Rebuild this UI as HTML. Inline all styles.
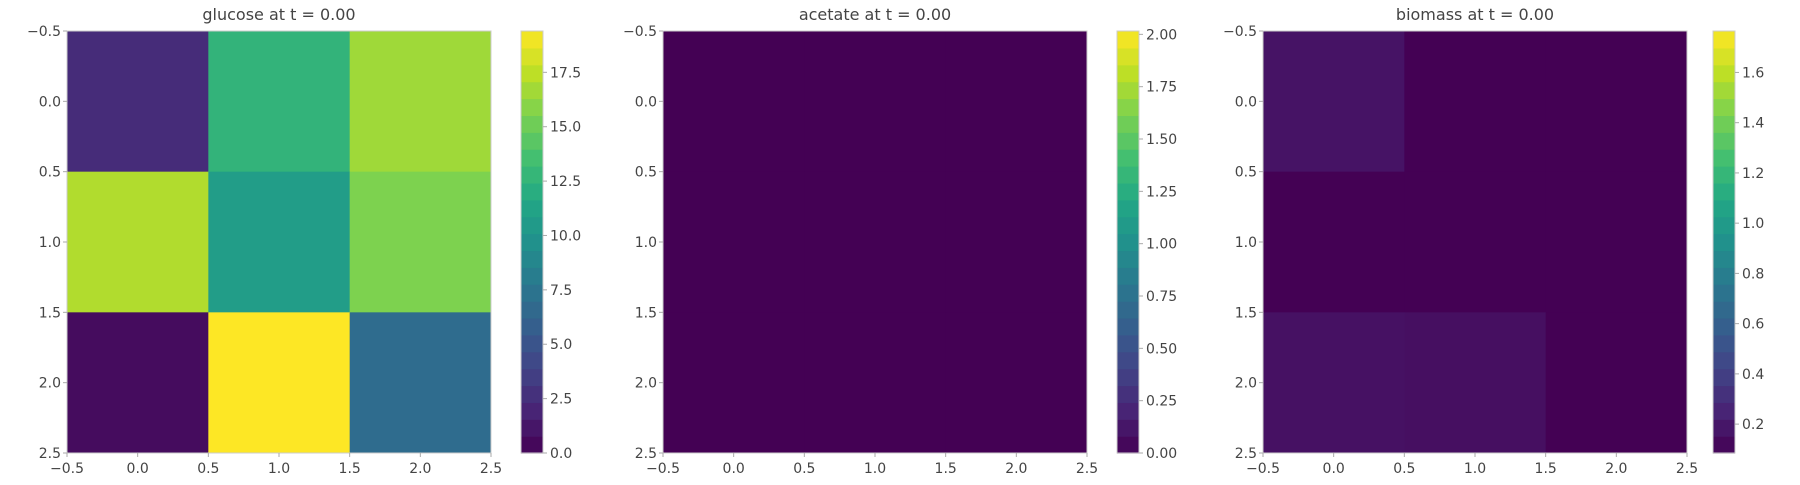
<!DOCTYPE html>
<html><head><meta charset="utf-8">
<style>
html,body{margin:0;padding:0;background:#fff;}
svg text{font-family:"DejaVu Sans","Liberation Sans",sans-serif;fill:#444;}
</style></head>
<body>
<svg id="chart" width="1800" height="480" xmlns="http://www.w3.org/2000/svg"></svg>
<script>
const panelTitles = ["glucose at t = 0.00","acetate at t = 0.00","biomass at t = 0.00"];
const glucoseValues = [[2.4,12.6,16.6],[17.1,10.7,15.6],[0.6,19.4,6.8]];
const acetateValues = [[0,0,0],[0,0,0],[0,0,0]];
const biomassValues = [[0.17,0.085,0.085],[0.085,0.085,0.085],[0.16,0.15,0.085]];
const valueRanges = [[0,19.4],[0,2.016],[0.085,1.765]];
const cbTicks0 = [0,2.5,5,7.5,10,12.5,15,17.5];
const cbTicks1 = [0,0.25,0.5,0.75,1,1.25,1.5,1.75,2];
const cbTicks2 = [0.2,0.4,0.6,0.8,1.0,1.2,1.4,1.6];
const axisTicks = [-0.5,0,0.5,1,1.5,2,2.5];

const NS="http://www.w3.org/2000/svg";
const svg=document.getElementById('chart');
const vir=["#440154","#482475","#414487","#355f8d","#2a788e","#21918c","#22a884","#44bf70","#7ad151","#bddf26","#fde725"];
function hex(h){return [1,3,5].map(i=>parseInt(h.substr(i,2),16));}
function viridis(t){t=Math.max(0,Math.min(1,t));const f=t*10,i=Math.min(9,Math.floor(f)),r=f-i;const a=hex(vir[i]),b=hex(vir[i+1]);return "rgb("+a.map((v,k)=>Math.round(v+(b[k]-v)*r)).join(",")+")";}
function el(tag,attrs,parent){const e=document.createElementNS(NS,tag);for(const k in attrs)e.setAttribute(k,attrs[k]);(parent||svg).appendChild(e);return e;}
function fmt(v,d){return (v<0?"\u2212":"")+Math.abs(v).toFixed(d);}

const panels=[glucoseValues,acetateValues,biomassValues];
const cbTicks=[cbTicks0,cbTicks1,cbTicks2];
const cbDec=[1,2,1];
const names=["glucose","acetate","biomass"];
const X0=[67,663,1263], Y0=31, W=424, H=422;
const CBOFF=[454,454,450];
panels.forEach((vals,p)=>{
  const g=el('g',{});
  
  
  const x0=X0[p];
  const sx=v=>x0+(v+0.5)/3*W, sy=v=>Y0+(v+0.5)/3*H;
  const [vmin,vmax]=valueRanges[p];
  const norm=v=>(v-vmin)/(vmax-vmin);
  vals.forEach((row,r)=>row.forEach((v,c)=>{
    const cell=el('rect',{x:sx(c-0.5),y:sy(r-0.5),width:sx(c+0.5)-sx(c-0.5)+0.5,height:sy(r+0.5)-sy(r-0.5)+0.5,fill:viridis(norm(v))},g);
    
    
  }));
  el('rect',{x:x0,y:Y0,width:W,height:H,fill:'none',stroke:'#ccc','stroke-width':1},g);
  const t=el('text',{x:x0+W/2,y:20,'text-anchor':'middle','font-size':16},g);
  t.textContent=panelTitles[p];
  
  
  axisTicks.forEach(v=>{
    el('line',{x1:sx(v),x2:sx(v),y1:Y0+H,y2:Y0+H+4,stroke:'#aaa'},g);
    const tx=el('text',{x:sx(v),y:Y0+H+20,'text-anchor':'middle','font-size':14},g);
    tx.textContent=fmt(v,1);
    
    
    el('line',{x1:x0-4,x2:x0,y1:sy(v),y2:sy(v),stroke:'#aaa'},g);
    const ty=el('text',{x:x0-6,y:sy(v)+5,'text-anchor':'end','font-size':14},g);
    ty.textContent=fmt(v,1);
    
    
  });
  const cx=x0+CBOFF[p], cw=22, N=25;
  const cb=el('g',{},g);
  
  
  for(let i=0;i<N;i++){
    el('rect',{x:cx,y:Y0+H-(i+1)*H/N,width:cw,height:H/N+0.6,fill:viridis((i+0.5)/N)},cb);
  }
  el('rect',{x:cx,y:Y0,width:cw,height:H,fill:'none',stroke:'#ccc'},cb);
  cbTicks[p].forEach(v=>{
    const y=Y0+H-norm(v)*H;
    el('line',{x1:cx+cw,x2:cx+cw+4,y1:y,y2:y,stroke:'#aaa'},cb);
    const tl=el('text',{x:cx+cw+7,y:y+5,'font-size':14},cb);
    tl.textContent=v.toFixed(cbDec[p]);
    
    
  });
});
</script>
</body></html>
